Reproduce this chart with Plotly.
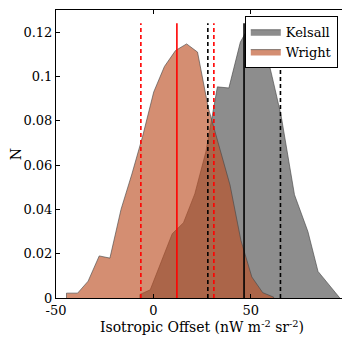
import plotly.graph_objects as go

# Kelsall distribution (grey)
KELSALL_X = [-6.9, -1.6, 4.2, 9.7, 15.5, 21.3, 27.0, 32.9, 38.8, 44.7, 50.4, 55.8, 61.0, 65.6, 72.5, 79.4, 84.6, 90.2, 95.8]
KELSALL_Y = [0.0016, 0.0037, 0.0168, 0.029, 0.034, 0.047, 0.066, 0.0953, 0.0948, 0.1155, 0.1245, 0.119, 0.100, 0.0825, 0.0466, 0.030, 0.012, 0.006, 0.0005]

# Wright distribution (orange)
WRIGHT_X = [-44.6, -38.9, -33.5, -27.8, -22.3, -16.6, -11.0, -5.5, 0.2, 5.7, 11.4, 17.1, 22.7, 28.2, 33.8, 39.4, 45.0, 50.6, 56.2, 61.8]
WRIGHT_Y = [0.0022, 0.0022, 0.0076, 0.019, 0.018, 0.040, 0.056, 0.073, 0.093, 0.1045, 0.1117, 0.1147, 0.111, 0.086, 0.069, 0.051, 0.026, 0.0095, 0.0024, 0.0004]

# Summary lines
KELSALL_MEAN = 46.6
KELSALL_BOUNDS = [28.0, 65.3]
WRIGHT_MEAN = 12.1
WRIGHT_BOUNDS = [-6.4, 31.1]
LINE_TOP = 0.124

X_TICKS = [-50, 0, 50, 100]
X_TICK_TEXT = ["-50", "0", "50", "100"]
Y_TICKS = [0, 0.02, 0.04, 0.06, 0.08, 0.1, 0.12]
Y_TICK_TEXT = ["0", "0.02", "0.04", "0.06", "0.08", "0.1", "0.12"]

FONT = "DejaVu Serif"


def closed(xs, ys):
    return [xs[0]] + list(xs) + [xs[-1]], [0] + list(ys) + [0]


fig = go.Figure()

kx, ky = closed(KELSALL_X, KELSALL_Y)
fig.add_trace(go.Scatter(
    x=kx, y=ky, mode="lines", fill="toself", name="Kelsall",
    fillcolor="rgb(141,141,141)",
    line=dict(color="rgba(70,70,70,0.9)", width=0.7),
))

wx, wy = closed(WRIGHT_X, WRIGHT_Y)
fig.add_trace(go.Scatter(
    x=wx, y=wy, mode="lines", fill="toself", name="Wright",
    fillcolor="rgba(187,78,34,0.64)",
    line=dict(color="rgba(70,70,70,0.9)", width=0.7),
))


def vline(x, color, dash):
    fig.add_trace(go.Scatter(
        x=[x, x], y=[0, LINE_TOP], mode="lines", showlegend=False,
        line=dict(color=color, width=1.6, dash=dash), hoverinfo="skip",
    ))


vline(WRIGHT_MEAN, "red", "solid")
for b in WRIGHT_BOUNDS:
    vline(b, "red", "4px,3px")
vline(KELSALL_MEAN, "black", "solid")
for b in KELSALL_BOUNDS:
    vline(b, "black", "4px,3px")

axis_common = dict(
    showgrid=False, zeroline=False, showline=True, linecolor="black",
    linewidth=1, mirror="ticks", ticks="inside", ticklen=4,
    tickcolor="black", tickfont=dict(family=FONT, size=13, color="black"),
)

fig.update_layout(
    width=350, height=338,
    margin=dict(l=48, r=10, t=2, b=48),
    paper_bgcolor="white", plot_bgcolor="white",
    font=dict(family=FONT, size=13, color="black"),
    showlegend=True,
    legend=dict(
        x=0.965, xanchor="right", y=0.98, yanchor="top",
        bgcolor="white", bordercolor="black", borderwidth=1,
        font=dict(family=FONT, size=13, color="black"),
        itemwidth=30, tracegroupgap=0,
    ),
    xaxis=dict(
        range=[-50, 100], tickvals=X_TICKS, ticktext=X_TICK_TEXT,
        title=dict(text="Isotropic Offset (nW m<sup>-2</sup> sr<sup>-2</sup>)",
                   font=dict(family=FONT, size=14), standoff=2),
        **axis_common,
    ),
    yaxis=dict(
        range=[0, 0.13], tickvals=Y_TICKS, ticktext=Y_TICK_TEXT,
        title=dict(text="N", font=dict(family=FONT, size=14), standoff=4),
        **axis_common,
    ),
)

fig.write_html("out.html")
